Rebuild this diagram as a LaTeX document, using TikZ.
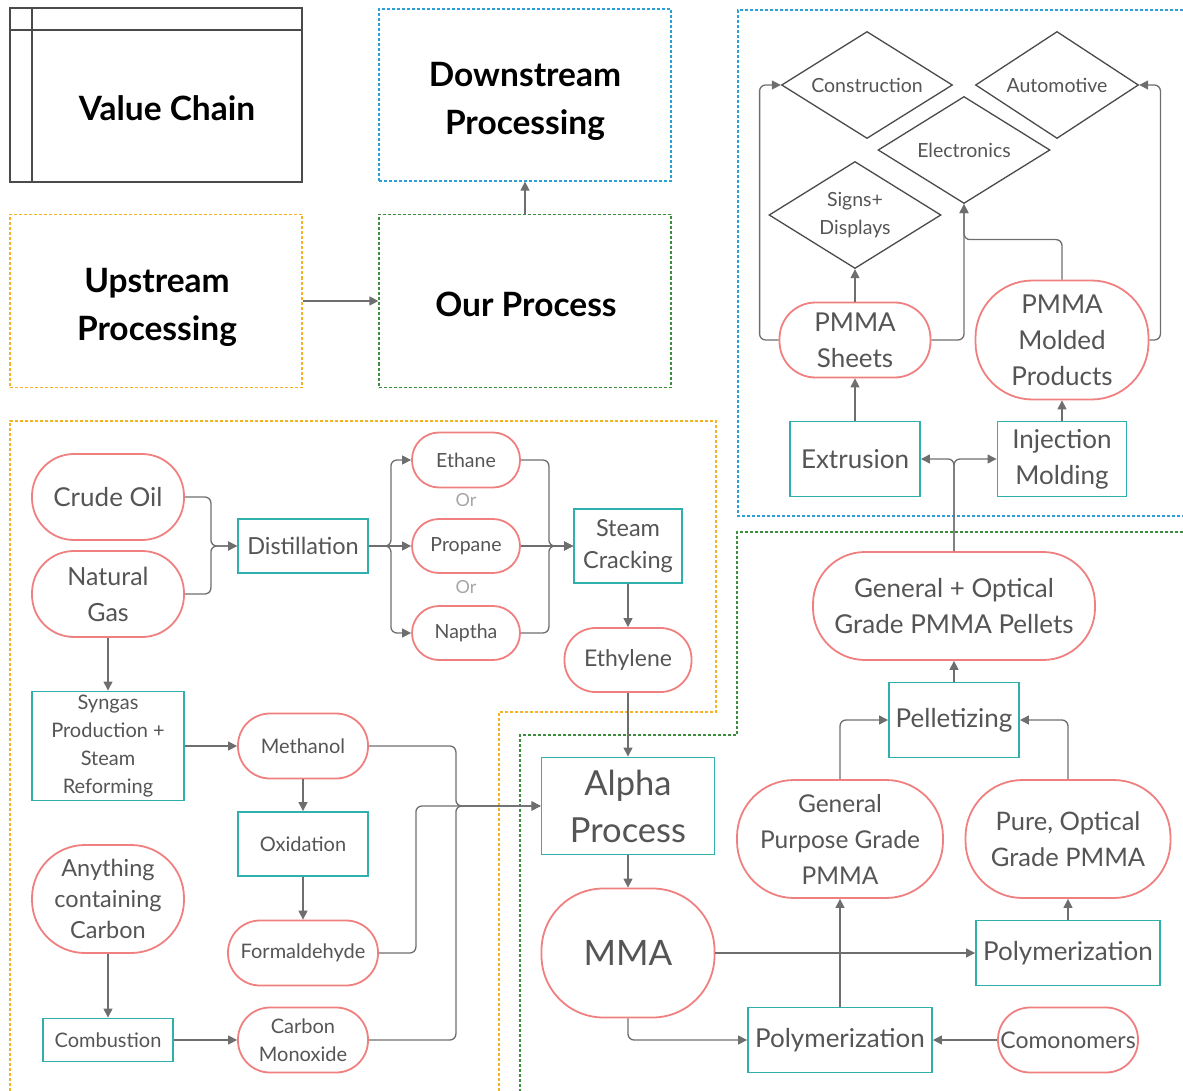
\documentclass[tikz,border=0pt]{standalone}
\usepackage{fontspec}
\setmainfont{Lato}
\usetikzlibrary{arrows.meta,shapes.geometric}
\definecolor{pillred}{HTML}{F08080}
\definecolor{tealbox}{HTML}{2FB0AC}
\definecolor{linegray}{HTML}{6E6E6E}
\definecolor{textgray}{HTML}{555555}
\definecolor{framegray}{HTML}{4A4A4A}
\definecolor{blueline}{HTML}{2A9FD8}
\definecolor{orangeline}{HTML}{F5B323}
\definecolor{greenline}{HTML}{3C8D3C}
\newcommand{\fsz}[2]{\fontsize{#1pt}{#2pt}\selectfont}

\begin{document}
\begin{tikzpicture}[x=1pt,y=-1pt,
pill/.style n args={3}{rectangle, draw=pillred, line width=1.8pt, fill=white,
  minimum width=#1, minimum height=#2, rounded corners=#3, inner sep=0pt,
  text=textgray, align=center},
stepbox/.style 2 args={rectangle, draw=tealbox, line width=1.9pt, fill=white,
  minimum width=#1, minimum height=#2, inner sep=0pt, text=textgray, align=center},
dia/.style 2 args={diamond, aspect=1.6, draw=framegray, line width=1.3pt, fill=white,
  minimum width=#1, minimum height=#2, inner sep=0pt, text=textgray, align=center,
  font=\fsz{19.5}{28}},
head/.style={font=\fsz{33.5}{48}\bfseries, text=black, align=center},
region/.style={dash pattern=on 3pt off 2pt, line width=1.2pt},
link/.style={draw=linegray, line width=1.3pt, rounded corners=6pt,
  -{Triangle[length=9pt,width=9pt]}}]
\useasboundingbox (0,0) rectangle (1183,1091);

% legend
\draw[framegray, line width=1.5pt] (10,8) rectangle (302,182);
\draw[framegray, line width=1.5pt] (10,30) -- (302,30) (32,8) -- (32,182);
\node[head] (valuechain) at (167,108) {Value Chain};
\node[draw=blueline, region, minimum width=292, minimum height=172] (downstream) at (525,95) {};
\node[draw=orangeline, region, minimum width=292, minimum height=173] (upstream) at (156,301) {};
\node[draw=greenline, region, minimum width=292, minimum height=173] (ourprocess) at (525,301) {};
\node[head] (downtext) at (525,101) {Downstream\\Processing};
\node[head] (uptext) at (157,307) {Upstream\\Processing};
\node[head] (ourtext) at (526,304) {Our Process};
\draw[link] (upstream.east) -- (ourprocess.west);
\draw[link] (ourprocess.north) -- (downstream.south);

% regions
\draw[blueline, region] (1183,10) -- (738,10) -- (738,516) -- (1183,516);
\draw[orangeline, region] (10,1091) -- (10,421) -- (716,421) -- (716,712) -- (499,712) -- (499,1091);
\draw[greenline, region] (1183,532) -- (737,532) -- (737,735) -- (520,735) -- (520,1091);

% upstream
\node[pill={152}{86}{42pt}, font=\fsz{26}{36}] (crude) at (108,497) {Crude Oil};
\node[pill={152}{86}{42pt}, font=\fsz{25}{36}] (natgas) at (108,594) {Natural\\Gas};
\node[stepbox={130}{54}, font=\fsz{23.5}{32}] (distill) at (303,546) {Distillation};
\node[pill={108}{55}{27pt}, font=\fsz{19.5}{28}] (ethane) at (466,460) {Ethane};
\node[pill={108}{54}{27pt}, font=\fsz{19.5}{28}] (propane) at (466,546) {Propane};
\node[pill={108}{54}{27pt}, font=\fsz{19.5}{28}] (naptha) at (466,633) {Naptha};
\node[text=gray!70, font=\fsz{18}{20}] (or1) at (466,500) {Or};
\node[text=gray!70, font=\fsz{18}{20}] (or2) at (466,587) {Or};
\node[stepbox={108}{74}, font=\fsz{23.5}{32}] (steamcrack) at (628,546) {Steam\\Cracking};
\node[pill={127}{64}{31pt}, font=\fsz{23}{32}] (ethylene) at (628,660) {Ethylene};
\node[stepbox={152}{109}, font=\fsz{20}{28}] (syngas) at (108,746) {Syngas\\Production +\\Steam\\Reforming};
\node[pill={130}{65}{32pt}, font=\fsz{20}{28}] (methanol) at (303,746) {Methanol};
\node[stepbox={130}{64}, font=\fsz{20}{28}] (oxidation) at (303,844) {Oxidation};
\node[pill={150}{65}{32pt}, font=\fsz{20}{28}] (formald) at (303,953) {Formaldehyde};
\node[pill={152}{108}{53pt}, font=\fsz{23.5}{31}] (carbon) at (108,899) {Anything\\containing\\Carbon};
\node[stepbox={130}{43}, font=\fsz{20}{28}] (combustion) at (108,1040) {Combustion};
\node[pill={130}{65}{32pt}, font=\fsz{20}{28}] (comonox) at (303,1040) {Carbon\\Monoxide};

\draw[link] (crude.east) -- ++(26,0) |- (distill.west);
\draw[link] (natgas.east) -- ++(26,0) |- (distill.west);
\draw[link] (distill.east) -- ++(22,0) |- (ethane.west);
\draw[link] (distill.east) -- (propane.west);
\draw[link] (distill.east) -- ++(22,0) |- (naptha.west);
\draw[link] (ethane.east) -- ++(28,0) |- (steamcrack.west);
\draw[link] (propane.east) -- (steamcrack.west);
\draw[link] (naptha.east) -- ++(28,0) |- (steamcrack.west);
\draw[link] (steamcrack.south) -- (ethylene.north);
\draw[link] (natgas.south) -- (syngas.north);
\draw[link] (syngas.east) -- (methanol.west);
\draw[link] (methanol.south) -- (oxidation.north);
\draw[link] (oxidation.south) -- (formald.north);
\draw[link] (carbon.south) -- (combustion.north);
\draw[link] (combustion.east) -- (comonox.west);

% our process
\node[stepbox={173}{97}, font=\fsz{34.5}{47}] (alpha) at (628,806) {Alpha\\Process};
\node[pill={173}{129}{62pt}, font=\fsz{35}{47}] (mma) at (628,953) {MMA};
\node[stepbox={184}{65}, font=\fsz{26}{36}] (polybottom) at (840,1040) {Polymerization};
\node[pill={140}{65}{32pt}, font=\fsz{23}{32}] (comonomers) at (1068,1040) {Comonomers};
\node[stepbox={184}{65}, font=\fsz{26}{36}] (polyright) at (1068,953) {Polymerization};
\node[pill={206}{118}{57pt}, font=\fsz{24.5}{36}] (gppmma) at (840,839) {General\\Purpose Grade\\PMMA};
\node[pill={205}{118}{57pt}, font=\fsz{25.5}{36}] (optpmma) at (1068,839) {Pure, Optical\\Grade PMMA};
\node[stepbox={130}{75}, font=\fsz{26}{36}] (pelletize) at (954,720) {Pelletizing};
\node[pill={282}{108}{52pt}, font=\fsz{26}{36}] (pellets) at (954,606) {General + Optical\\Grade PMMA Pellets};

\draw[link] (methanol.east) -- ++(87,0) |- (alpha.west);
\draw[link] (formald.east) -- ++(37,0) |- (alpha.west);
\draw[link] (comonox.east) -- ++(87,0) |- (alpha.west);
\draw[link] (ethylene.south) -- (alpha.north);
\draw[link] (alpha.south) -- (mma.north);
\draw[link] (mma.east) -- (polyright.west);
\draw[link] (mma.south) |- (polybottom.west);
\draw[link] (comonomers.west) -- (polybottom.east);
\draw[link] (polybottom.north) -- (gppmma.south);
\draw[link] (polyright.north) -- (optpmma.south);
\draw[link] (gppmma.north) |- (pelletize.west);
\draw[link] (optpmma.north) |- (pelletize.east);
\draw[link] (pelletize.north) -- (pellets.south);

% downstream
\node[stepbox={130}{75}, font=\fsz{26}{36}] (extrusion) at (855,459) {Extrusion};
\node[stepbox={129}{75}, font=\fsz{26}{36}] (injection) at (1062,459) {Injection\\Molding};
\node[pill={151}{75}{36pt}, font=\fsz{26}{36}] (sheets) at (855,340) {PMMA\\Sheets};
\node[pill={173}{119}{57pt}, font=\fsz{26}{36}] (molded) at (1062,340) {PMMA\\Molded\\Products};
\node[dia={172}{107}] (signs) at (855,215) {Signs+\\Displays};
\node[dia={172}{107}] (electronics) at (964,150) {Electronics};
\node[dia={171}{107}] (construction) at (867,85) {Construction};
\node[dia={163}{107}] (automotive) at (1057,85) {Automotive};

\draw[link] (pellets.north) |- (extrusion.east);
\draw[link] (pellets.north) |- (injection.west);
\draw[link] (extrusion.north) -- (sheets.south);
\draw[link] (injection.north) -- (molded.south);
\draw[link] (sheets.north) -- (signs.south);
\draw[link] (sheets.west) -- ++(-19,0) |- (construction.west);
\draw[link] (sheets.east) -| (electronics.south);
\draw[link] (molded.north) -- ++(0,-40) -| (electronics.south);
\draw[link] (molded.east) -- ++(11,0) |- (automotive.east);
\end{tikzpicture}
\end{document}
